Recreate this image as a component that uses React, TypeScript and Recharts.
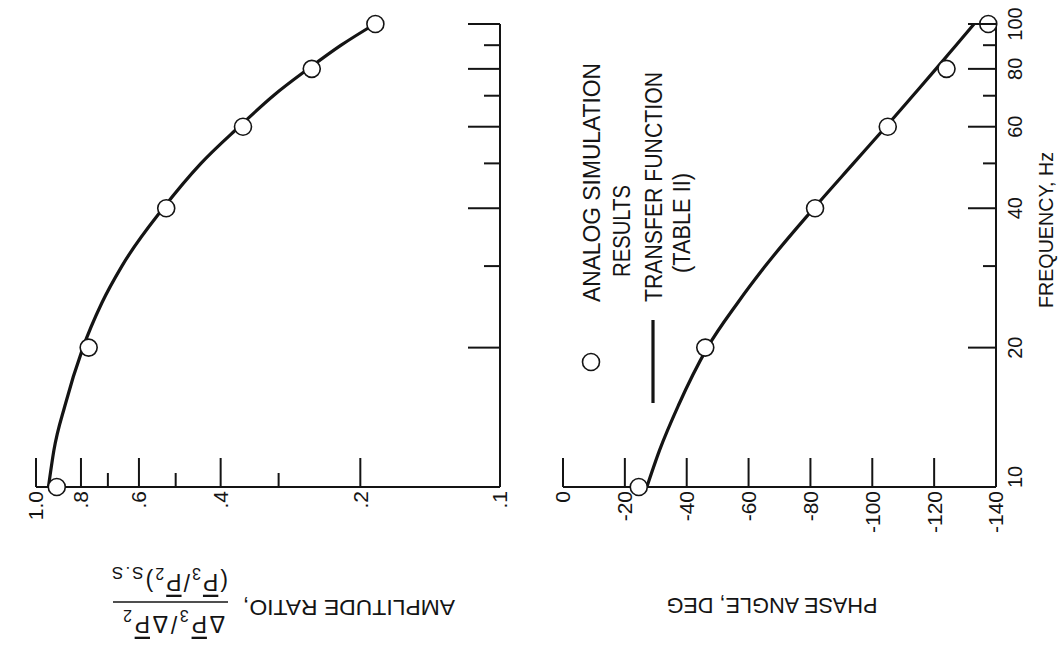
import { ScatterChart, Scatter, XAxis, YAxis } from 'recharts';

const FREQ_CURVE = [10, 12, 15, 20, 25, 30, 40, 50, 60, 70, 80, 90, 100];
const AMP_CURVE = [0.94, 0.915, 0.866, 0.792, 0.721, 0.653, 0.532, 0.441, 0.365, 0.308, 0.259, 0.22, 0.186];
const PHASE_CURVE = [-27.1, -31.2, -37.3, -46.7, -56.5, -65.4, -81.1, -93.9, -104.4, -113.1, -120.6, -127.1, -132.9];

// analog simulation results (circles)
const FREQ_POINTS = [10, 20, 40, 60, 80, 100];
const AMP_POINTS = [0.902, 0.77, 0.524, 0.358, 0.2545, 0.1856];
const PHASE_POINTS = [-24.5, -46, -81.5, -105, -124, -137.5];

// ticks ('' = minor tick, no label)
const AMP_TICKS = [1, 0.8, 0.7, 0.6, 0.5, 0.4, 0.3, 0.2, 0.1];
const AMP_TICK_LABELS = ['1.0', '.8', '', '.6', '', '.4', '', '.2', '.1'];
const FREQ_TICKS = [10, 20, 30, 40, 50, 60, 70, 80, 90, 100];
const FREQ_TICK_LABELS = ['10', '20', '', '40', '', '60', '', '80', '', '100'];
const PHASE_TICKS = [0, -20, -40, -60, -80, -100, -120, -140];
const PHASE_TICK_LABELS = ['0', '-20', '-40', '-60', '-80', '-100', '-120', '-140'];

const INK = '#141414';
const FONT = "'Liberation Sans', Arial, sans-serif";
const W = 1060;
const H = 652;

const ampCurve = FREQ_CURVE.map((freq, i) => ({ freq, amp: AMP_CURVE[i] }));
const phaseCurve = FREQ_CURVE.map((freq, i) => ({ freq, phase: PHASE_CURVE[i] }));
const ampPoints = FREQ_POINTS.map((freq, i) => ({ freq, amp: AMP_POINTS[i] }));
const phasePoints = FREQ_POINTS.map((freq, i) => ({ freq, phase: PHASE_POINTS[i] }));

const Ring = (p: any) => (
    <circle cx={p.cx} cy={p.cy} r={8.5} fill="#fff" stroke={INK} strokeWidth={1.6} />
);
const NoDot = () => <g />;

// bottom axis tick: line points up into the plot, label reads bottom-to-top
function BottomTick({ x, y, payload, ticks, labels }: any) {
    const label = labels[ticks.indexOf(payload.value)];
    return (
        <g>
            <line x1={x} y1={y} x2={x} y2={y - (label ? 29 : 14)} stroke={INK} strokeWidth={2} />
            {label && (
                <text
                    transform={`translate(${x},${y + 4}) rotate(-90)`}
                    textAnchor="end"
                    dy="0.35em"
                    fontSize={21}
                    fontFamily={FONT}
                    fill={INK}
                >
                    {label}
                </text>
            )}
        </g>
    );
}

// right axis tick: line points left into the plot
function FreqTick({ x, y, payload, showLabels, major, minor }: any) {
    const label = FREQ_TICK_LABELS[FREQ_TICKS.indexOf(payload.value)];
    const bottom = payload.value === 10;
    return (
        <g>
            <line x1={x} y1={y} x2={x - (label ? major : minor)} y2={y} stroke={INK} strokeWidth={2} />
            {showLabels && label && (
                <text
                    transform={`translate(${x + 19},${bottom ? y + 1 : y}) rotate(-90)`}
                    textAnchor={bottom ? 'start' : 'middle'}
                    dy="0.35em"
                    fontSize={20}
                    fontFamily={FONT}
                    fill={INK}
                >
                    {label}
                </text>
            )}
        </g>
    );
}

function AmpTitle() {
    // drawn upright, then turned upside down like the rest of the figure
    return (
        <g transform="rotate(180 275 603)" fontFamily={FONT} fill={INK}>
            <text x={95} y={606} fontSize={22} textLength={212} lengthAdjust="spacingAndGlyphs">
                AMPLITUDE RATIO,
            </text>
            <text x={325} y={590} fontSize={23} textLength={102} lengthAdjust="spacing">
                <tspan>Δ</tspan>
                <tspan style={{ textDecoration: 'overline' }}>P</tspan>
                <tspan dy={6} fontSize={16}>3</tspan>
                <tspan dy={-6}>/Δ</tspan>
                <tspan style={{ textDecoration: 'overline' }}>P</tspan>
                <tspan dy={6} fontSize={16}>2</tspan>
            </text>
            <line x1={322} y1={604} x2={437} y2={604} stroke={INK} strokeWidth={1.6} />
            <text x={322} y={632} fontSize={23} textLength={116} lengthAdjust="spacing">
                <tspan>(</tspan>
                <tspan style={{ textDecoration: 'overline' }}>P</tspan>
                <tspan dy={6} fontSize={16}>3</tspan>
                <tspan dy={-6}>/</tspan>
                <tspan style={{ textDecoration: 'overline' }}>P</tspan>
                <tspan dy={6} fontSize={16}>2</tspan>
                <tspan dy={-6}>)</tspan>
                <tspan dy={7} fontSize={17}>S.S</tspan>
            </text>
        </g>
    );
}

function PhaseTitle() {
    return (
        <text
            transform="rotate(180 772 606)"
            x={772}
            y={614}
            textAnchor="middle"
            fontSize={22}
            fontFamily={FONT}
            fill={INK}
            textLength={211}
            lengthAdjust="spacingAndGlyphs"
        >
            PHASE ANGLE,  DEG
        </text>
    );
}

function FreqTitle() {
    return (
        <text
            transform="translate(1053,230) rotate(-90)"
            textAnchor="middle"
            fontSize={21}
            fontFamily={FONT}
            fill={INK}
            textLength={156}
            lengthAdjust="spacingAndGlyphs"
        >
            FREQUENCY, Hz
        </text>
    );
}

function LegendBox() {
    const t = { fontSize: 23, fontFamily: FONT, fill: INK, lengthAdjust: 'spacingAndGlyphs' } as const;
    return (
        <svg width={W} height={H} style={{ position: 'absolute', left: 0, top: 0, pointerEvents: 'none' }}>
            <circle cx={591} cy={362} r={8.5} fill="#fff" stroke={INK} strokeWidth={1.6} />
            <line x1={653} y1={320} x2={653} y2={403} stroke={INK} strokeWidth={3.2} />
            <text transform="translate(600,302) rotate(-90)" textLength={239} {...t}>ANALOG SIMULATION</text>
            <text transform="translate(630,277) rotate(-90)" textLength={92} {...t}>RESULTS</text>
            <text transform="translate(662,302) rotate(-90)" textLength={230} {...t}>TRANSFER FUNCTION</text>
            <text transform="translate(690,273) rotate(-90)" textLength={100} {...t}>(TABLE II)</text>
        </svg>
    );
}

const axisLine = { stroke: INK, strokeWidth: 2 };

export default function App() {
    return (
        <div style={{ position: 'absolute', left: 0, top: 0, width: W, height: H, background: '#fff' }}>
            {/* amplitude ratio panel */}
            <div style={{ position: 'absolute', left: 0, top: 0 }}>
                <ScatterChart width={W} height={H} margin={{ top: 24, right: 500, bottom: 135, left: 36 }}>
                    <XAxis
                        type="number"
                        dataKey="amp"
                        scale="log"
                        domain={[0.1, 1]}
                        reversed
                        ticks={AMP_TICKS}
                        interval={0}
                        height={30}
                        tickSize={0}
                        tickMargin={0}
                        tickLine={false}
                        axisLine={axisLine}
                        tick={<BottomTick ticks={AMP_TICKS} labels={AMP_TICK_LABELS} />}
                        label={<AmpTitle />}
                    />
                    <YAxis
                        type="number"
                        dataKey="freq"
                        scale="log"
                        domain={[10, 100]}
                        orientation="right"
                        ticks={FREQ_TICKS}
                        interval={0}
                        width={60}
                        tickSize={0}
                        tickMargin={0}
                        tickLine={false}
                        axisLine={axisLine}
                        tick={<FreqTick showLabels={false} major={32} minor={16} />}
                    />
                    <Scatter
                        data={ampCurve}
                        line={{ stroke: INK, strokeWidth: 3.2 }}
                        lineJointType="monotoneX"
                        shape={NoDot}
                        isAnimationActive={false}
                    />
                    <Scatter data={ampPoints} shape={Ring} isAnimationActive={false} />
                </ScatterChart>
            </div>

            {/* phase angle panel */}
            <div style={{ position: 'absolute', left: 0, top: 0 }}>
                <ScatterChart width={W} height={H} margin={{ top: 24, right: 4, bottom: 135, left: 563 }}>
                    <XAxis
                        type="number"
                        dataKey="phase"
                        domain={[-140, 0]}
                        reversed
                        ticks={PHASE_TICKS}
                        interval={0}
                        height={30}
                        tickSize={0}
                        tickMargin={0}
                        tickLine={false}
                        axisLine={axisLine}
                        tick={<BottomTick ticks={PHASE_TICKS} labels={PHASE_TICK_LABELS} />}
                        label={<PhaseTitle />}
                    />
                    <YAxis
                        type="number"
                        dataKey="freq"
                        scale="log"
                        domain={[10, 100]}
                        orientation="right"
                        ticks={FREQ_TICKS}
                        interval={0}
                        width={60}
                        tickSize={0}
                        tickMargin={0}
                        tickLine={false}
                        axisLine={axisLine}
                        tick={<FreqTick showLabels major={28} minor={13} />}
                        label={<FreqTitle />}
                    />
                    <Scatter
                        data={phaseCurve}
                        line={{ stroke: INK, strokeWidth: 3.2 }}
                        lineJointType="monotoneX"
                        shape={NoDot}
                        isAnimationActive={false}
                    />
                    <Scatter data={phasePoints} shape={Ring} isAnimationActive={false} />
                </ScatterChart>
            </div>

            <LegendBox />
        </div>
    );
}
